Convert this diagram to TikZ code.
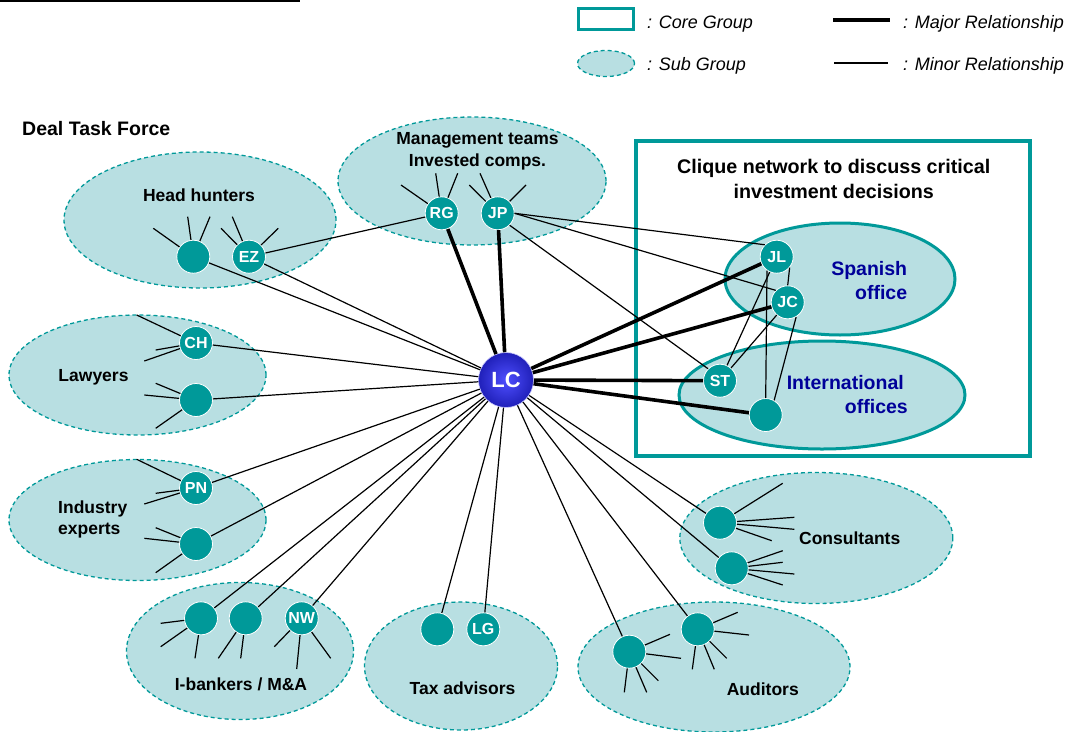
\documentclass[tikz,border=0pt]{standalone}
\usepackage{fontspec}
\setmainfont{Liberation Sans}
\usetikzlibrary{shapes.geometric}

\definecolor{tealc}{RGB}{0,153,153}
\definecolor{subfill}{RGB}{184,223,226}
\definecolor{navyc}{RGB}{0,0,153}
\definecolor{lcin}{RGB}{78,78,255}
\definecolor{lcout}{RGB}{32,32,185}

\tikzset{
  subgrp/.style={ellipse, draw=tealc, fill=subfill, line width=1.3pt,
    dash pattern=on 4pt off 3pt, inner sep=0pt},
  officegrp/.style={ellipse, draw=tealc, fill=subfill, line width=3pt, inner sep=0pt},
  corebox/.style={rectangle, draw=tealc, fill=white, line width=4pt, inner sep=0pt},
  person/.style={circle, fill=tealc, draw=white, line width=0.8pt, minimum size=33pt,
    inner sep=0pt, text=white, font=\bfseries\fontsize{16}{16}\selectfont},
  leader/.style={circle, draw=white!80!blue, line width=0.6pt, inner color=lcin,
    outer color=lcout, minimum size=55pt, inner sep=0pt, text=white,
    font=\bfseries\fontsize{22}{22}\selectfont},
  minor/.style={line width=1.2pt},
  major/.style={line width=3.6pt},
  grplabel/.style={inner sep=0pt, align=center, font=\bfseries\fontsize{17.5}{21.5}\selectfont},
  bigtitle/.style={inner sep=0pt, align=center, font=\bfseries\fontsize{19.7}{24.3}\selectfont},
  officelabel/.style={inner sep=0pt, align=right, text=navyc,
    font=\bfseries\fontsize{19.5}{24}\selectfont},
  legendtext/.style={inner sep=0pt, anchor=base west, font=\itshape\fontsize{18}{18}\selectfont},
}

% spokes: short minor ties from a person to contacts not drawn as nodes
\newcommand\spokes[2]{%
  \foreach \sx/\sy [count=\si] in {#2}{%
    \coordinate (#1-\si) at (\sx,\sy);
    \draw[minor] (#1) -- (#1-\si);
  }%
}

\begin{document}
\begin{tikzpicture}[x=1pt,y=-1pt]
\useasboundingbox (0,0) rectangle (1073,731);

% header rule and title
\coordinate (ruleL) at (0,1);
\coordinate (ruleR) at (300,1);
\draw[line width=2pt] (ruleL) -- (ruleR);
\node[anchor=west, inner sep=0pt, font=\bfseries\fontsize{19.5}{19.5}\selectfont] (dtf) at (22,129) {Deal Task Force};

% legend
\node[corebox, line width=3pt, minimum width=55pt, minimum height=21pt] (legcore) at (605.5,18.5) {};
\node[legendtext] (legcoret) at (647,28.3) {: Core Group};
\node[subgrp, minimum width=57pt, minimum height=26pt] (legsub) at (606,63.5) {};
\node[legendtext] (legsubt) at (647,70.7) {: Sub Group};
\coordinate (legmajA) at (833,20);
\coordinate (legmajB) at (890,20);
\draw[line width=4pt] (legmajA) -- (legmajB);
\node[legendtext] (legmajt) at (903,28.3) {: Major Relationship};
\coordinate (legminA) at (834,63);
\coordinate (legminB) at (888,63);
\draw[minor] (legminA) -- (legminB);
\node[legendtext] (legmint) at (903,70.7) {: Minor Relationship};

% core group box
\node[corebox, minimum width=394pt, minimum height=315pt] (core) at (833,298.5) {};
\node[bigtitle] (coret) at (833.7,179) {Clique network to discuss critical\\investment decisions};

% sub groups
\node[subgrp, minimum width=272pt, minimum height=136pt] (gHH) at (200,220) {};
\node[subgrp, minimum width=268pt, minimum height=128pt] (gMT) at (472,181) {};
\node[subgrp, minimum width=257pt, minimum height=120pt] (gLW) at (137.5,375) {};
\node[subgrp, minimum width=257pt, minimum height=121pt] (gIE) at (137.5,520) {};
\node[subgrp, minimum width=227pt, minimum height=137pt] (gBK) at (240,651) {};
\node[subgrp, minimum width=193pt, minimum height=128pt] (gTX) at (461,666) {};
\node[subgrp, minimum width=273pt, minimum height=131pt] (gCO) at (816.3,538) {};
\node[subgrp, minimum width=272pt, minimum height=130pt] (gAU) at (714,667) {};
\node[officegrp, minimum width=230pt, minimum height=112pt] (gSP) at (840,279) {};
\node[officegrp, minimum width=286pt, minimum height=108pt] (gIO) at (822,395) {};

% group labels
\node[grplabel] (tHH) at (199,195) {Head hunters};
\node[grplabel] (tMT) at (477.5,151.5) {Management teams\\Invested comps.};
\node[grplabel] (tLW) at (93.5,377) {Lawyers};
\node[grplabel, align=left, anchor=west] (tIE) at (58,519.5) {Industry\\experts};
\node[grplabel] (tBK) at (241,684.3) {I-bankers / M\&A};
\node[grplabel] (tTX) at (462.5,688.3) {Tax advisors};
\node[grplabel] (tCO) at (849.7,538.3) {Consultants};
\node[grplabel] (tAU) at (762.8,689.3) {Auditors};
\node[officelabel, anchor=east] (tSP) at (907.3,280.8) {Spanish\\office};
\node[officelabel, anchor=east] (tIO) at (908,394.7) {International\hspace*{4pt}\\offices};

% people
\node[leader] (LC) at (506,380) {LC};
\node[person] (HH1) at (193.3,256.7) {};
\node[person] (EZ) at (249,256.7) {EZ};
\node[person] (RG) at (441.7,213.3) {RG};
\node[person] (JP) at (497.7,213.3) {JP};
\node[person] (CH) at (196,343) {CH};
\node[person] (LW2) at (196,400) {};
\node[person] (PN) at (196,488) {PN};
\node[person] (IE2) at (196,544) {};
\node[person] (BK1) at (201,618.3) {};
\node[person] (BK2) at (245.7,618.3) {};
\node[person] (NW) at (301.7,618.3) {NW};
\node[person] (TX1) at (437.3,629.3) {};
\node[person] (LG) at (483.3,629.3) {LG};
\node[person] (CO1) at (720,522.7) {};
\node[person] (CO2) at (731.7,568.3) {};
\node[person] (AU1) at (629.3,651.7) {};
\node[person] (AU2) at (697.7,629.3) {};
\node[person] (JL) at (776.7,256.7) {JL};
\node[person] (JC) at (787.7,302.3) {JC};
\node[person] (ST) at (720,380.7) {ST};
\node[person] (IO) at (765.7,415) {};

% major relationships
\foreach \p in {RG,JP,JL,JC,ST,IO}{\draw[major] (LC) -- (\p);}

% minor relationships with LC
\foreach \p in {HH1,EZ,CH,LW2,PN,IE2,BK1,BK2,NW,TX1,LG,CO1,CO2,AU1,AU2}{\draw[minor] (LC) -- (\p);}

% other minor relationships
\draw[minor] (EZ) -- (RG);
\draw[minor] (JP.east) -- (JL.135);
\draw[minor] (JP.east) -- (JC.135);
\draw[minor] (JP.-45) -- (ST.135);
\draw[minor] (JL.-40) -- (JC.north);
\draw[minor] (JL) -- (ST);
\draw[minor] (JL.235) -- (IO.north);
\draw[minor] (JC) -- (ST);
\draw[minor] (JC.-60) -- (IO.60);

% outer contacts of each person
\spokes{HH1}{153.3/228.3, 187.7/216.7, 210/216.7}
\spokes{EZ}{221/228.3, 232.3/216.7, 278.3/228.3}
\spokes{RG}{401/185, 435.7/173.3, 457.7/173.3}
\spokes{JP}{469.3/185, 480/173.3, 526/185}
\spokes{CH}{136.7/315, 155.7/350, 144.3/361}
\spokes{LW2}{155.7/383.3, 144.3/395, 155.7/428.3}
\spokes{PN}{136.7/459.3, 155.7/493.3, 144.3/504}
\spokes{IE2}{155.7/527.7, 144.3/538.3, 155.7/572.7}
\spokes{BK1}{160.7/623.3, 160.7/646.7, 195/658.3}
\spokes{BK2}{218.3/658.3, 240.7/658.3}
\spokes{NW}{274.3/646.7, 296.7/669, 330.7/658.3}
\spokes{CO1}{782.7/483.3, 794.3/517.3, 794.3/529.3, 771.7/540.7}
\spokes{CO2}{782.7/550.7, 782.7/562.3, 794.3/574, 782.7/585}
\spokes{AU1}{670/634.3, 681/658.3, 658.3/680.7, 646.7/692.3, 624.3/692.3}
\spokes{AU2}{737.7/612.3, 749/635, 726.7/658.3, 714.3/669.3, 692.3/669.3}
\end{tikzpicture}
\end{document}
